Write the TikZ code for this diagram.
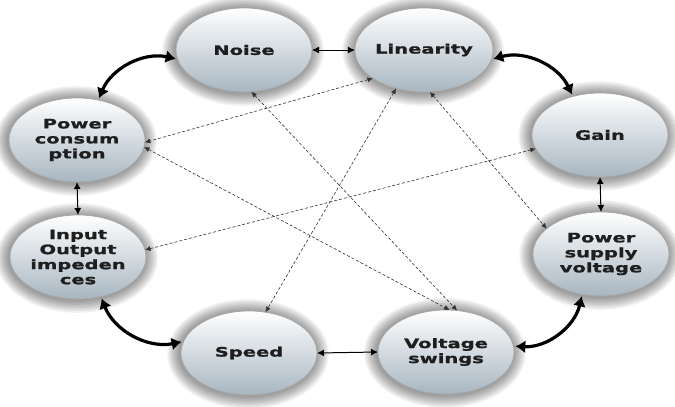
\documentclass[tikz,border=0pt]{standalone}
\usepackage{fontspec}
\newfontfamily\nf[FakeStretch=1.5,FakeBold=1.2]{DejaVu Sans Bold}
\usetikzlibrary{shapes.geometric,arrows.meta,backgrounds}
\definecolor{bubbot}{RGB}{168,182,193}
\definecolor{txt}{RGB}{30,30,30}
\begin{document}
\begin{tikzpicture}[x=1pt,y=1pt,
 bubble/.style={ellipse, minimum width=136pt, minimum height=84pt, inner sep=0pt, outer sep=0pt,
   draw=gray!70, line width=0.7pt, top color=white, bottom color=bubbot, align=center, text=txt,
   font=\nf\fontsize{13}{15}\selectfont},
 thickarr/.style={line width=3.2pt, {Latex[length=10pt,width=13pt]}-{Latex[length=10pt,width=13pt]}, shorten >=2pt, shorten <=2pt},
 solidarr/.style={line width=1pt, {Latex[length=7pt,width=7pt]}-{Latex[length=7pt,width=7pt]}},
 dasharr/.style={line width=0.6pt, densely dashed, draw=gray!40!black, {Latex[length=5.5pt,width=5pt]}-{Latex[length=5.5pt,width=5pt]}}
]
\useasboundingbox (0,0) rectangle (675,-407);
\node[bubble] (noise) at (244,-50) {Noise};
\node[bubble] (lin) at (424,-50) {Linearity};
\node[bubble] (gain) at (600,-135) {Gain};
\node[bubble] (psv) at (601,-254) {Power\\supply\\voltage};
\node[bubble] (vs) at (446,-352) {Voltage\\swings};
\node[bubble] (speed) at (249,-353) {Speed};
\node[bubble] (io) at (78,-257) {Input\\Output\\impeden\\ces};
\node[bubble] (pc) at (77,-140) {Power\\consum\\ption};

\begin{scope}[on background layer]
\fill[white] (0,0) rectangle (675,-407);
\foreach \n in {noise,lin,gain,psv,vs,speed,io,pc}{
  \foreach \k in {1,...,8}{
    \fill[black,opacity=0.055] ([xshift=-1pt,yshift=-1pt]\n.center) ellipse [x radius={68pt+1.6pt*\k}, y radius={42pt+1.6pt*\k}];
  }}
\end{scope}

\draw[thickarr] (noise.188) to[bend right=40] (pc.62);
\draw[thickarr] (lin.-8) to[bend left=40] (gain.125);
\draw[thickarr] (psv.245) to[bend left=40] (vs.5);
\draw[thickarr] (io.300) to[bend right=40] (speed.170);

\draw[solidarr] (noise.east) -- (lin.west);
\draw[solidarr] (pc.south) -- (io.north);
\draw[solidarr] (gain.south) -- (psv.north);
\draw[solidarr] (speed.east) -- (vs.west);

\draw[dasharr] (lin.209) -- (pc.358);
\draw[dasharr] (pc.354) -- (vs.85);
\draw[dasharr] (noise.280) -- (vs.75);
\draw[dasharr] (lin.234) -- (speed.68);
\draw[dasharr] (lin.278) -- (psv.155);
\draw[dasharr] (gain.192) -- (io.6);
\end{tikzpicture}
\end{document}
